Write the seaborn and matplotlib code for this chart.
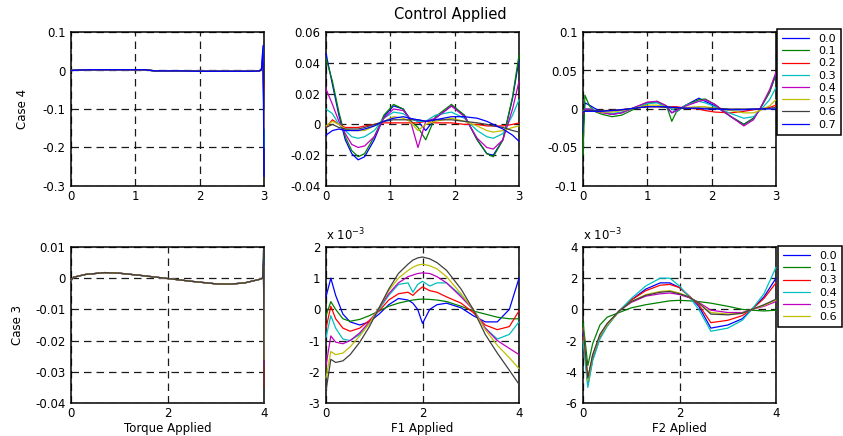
#!/usr/bin/env python3
"""Control applied per case: torque / F1 / F2 responses for several gains."""

import matplotlib
matplotlib.use("Agg")
import matplotlib.pyplot as plt
import seaborn as sns
from matplotlib.ticker import FuncFormatter

# ---- colours (MATLAB default order) ----
COLORS = ["#0000FF", "#008000", "#FF0000", "#00BFBF", "#BF00BF", "#BFBF00", "#404040", "#0000FF"]

TOP_LABELS = ["0.0", "0.1", "0.2", "0.3", "0.4", "0.5", "0.6", "0.7"]
BOTTOM_LABELS = ["0.0", "0.1", "0.3", "0.4", "0.5", "0.6"]

# ---- Case 4, torque (shared shape + per-curve end spike) ----
X1 = [0, 0.1, 0.3, 0.6, 1.0, 1.15, 1.3, 1.7, 2.0, 2.4, 2.8, 2.93, 2.96, 2.985, 3.0]
TORQUE4_BASE = [0.000, 0.001, 0.002, 0.002, 0.002, 0.002, -0.001, -0.001,
                -0.002, -0.002, -0.002, -0.001, 0.003]
TORQUE4_TIP = [0.020, 0.030, 0.000, 0.055, 0.040, 0.030, 0.020, 0.065]
TORQUE4_END = [-0.10, -0.15, -0.05, -0.20, -0.15, -0.15, -0.10, -0.275]

# ---- Case 4, F1 ----
X2 = [0, 0.1, 0.2, 0.3, 0.4, 0.5, 0.6, 0.75, 0.9, 1.05, 1.2, 1.3, 1.43, 1.55,
      1.7, 1.95, 2.15, 2.35, 2.5, 2.6, 2.75, 2.9, 3.0]
F1_CASE4 = [
    [0.046, 0.026, 0.006, -0.010, -0.019, -0.023, -0.021, -0.010, 0.005, 0.012, 0.010, 0.004,
     0.002, -0.004, 0.004, 0.012, 0.006, -0.010, -0.019, -0.020, -0.010, 0.017, 0.042],
    [0.043, 0.028, 0.008, -0.008, -0.017, -0.021, -0.019, -0.008, 0.006, 0.013, 0.010, 0.003,
     -0.002, -0.010, 0.005, 0.013, 0.006, -0.010, -0.019, -0.021, -0.010, 0.018, 0.045],
    [-0.002, 0.003, 0.000, -0.002, -0.002, -0.002, -0.001, 0.000, 0.001, 0.001, 0.001, 0.001,
     0.001, 0.002, 0.001, 0.001, 0.000, 0.000, -0.001, -0.001, -0.001, 0.000, 0.001],
    [0.010, 0.007, 0.000, -0.004, -0.008, -0.009, -0.008, -0.004, 0.004, 0.008, 0.007, 0.004,
     0.002, 0.002, 0.006, 0.008, 0.004, -0.004, -0.008, -0.009, -0.006, 0.006, 0.016],
    [0.023, 0.013, 0.002, -0.006, -0.013, -0.015, -0.014, -0.008, 0.004, 0.010, 0.009, 0.004,
     -0.015, 0.002, 0.004, 0.012, 0.005, -0.009, -0.015, -0.016, -0.010, 0.010, 0.028],
    [-0.001, 0.002, 0.000, -0.003, -0.004, -0.004, -0.004, -0.001, 0.002, 0.005, 0.004, 0.002,
     -0.004, 0.000, 0.002, 0.004, 0.002, -0.001, -0.004, -0.005, -0.004, -0.002, -0.001],
    [-0.002, 0.000, -0.002, -0.003, -0.003, -0.003, -0.002, 0.000, 0.002, 0.003, 0.003, 0.003,
     0.003, 0.002, 0.003, 0.003, 0.002, 0.001, 0.000, -0.001, -0.002, -0.004, -0.005],
    [-0.007, -0.004, -0.003, -0.004, -0.004, -0.004, -0.003, -0.001, 0.002, 0.004, 0.005, 0.004,
     0.003, 0.002, 0.003, 0.005, 0.005, 0.004, 0.002, 0.000, -0.003, -0.007, -0.011],
]

# ---- Case 4, F2 ----
X3 = [0, 0.03, 0.1, 0.2, 0.3, 0.45, 0.6, 0.8, 1.0, 1.15, 1.3, 1.38, 1.45, 1.6, 1.8,
      1.9, 2.05, 2.3, 2.5, 2.65, 2.75, 2.9, 3.0]
F2_CASE4 = [
    [-0.030, 0.008, 0.005, 0.000, -0.004, -0.007, -0.005, 0.002, 0.008, 0.009, 0.002, -0.005,
     -0.002, 0.005, 0.014, 0.010, 0.004, -0.010, -0.020, -0.012, 0.000, 0.022, 0.045],
    [-0.060, 0.018, 0.004, -0.004, -0.007, -0.010, -0.008, 0.000, 0.007, 0.010, 0.004, -0.016,
     -0.004, 0.005, 0.012, 0.013, 0.006, -0.010, -0.020, -0.012, 0.000, 0.022, 0.046],
    [-0.005, -0.003, -0.002, -0.002, -0.002, -0.002, -0.001, 0.001, 0.003, 0.003, 0.003, 0.003,
     0.003, 0.001, 0.000, -0.002, -0.004, -0.005, -0.003, -0.001, 0.000, 0.002, 0.005],
    [-0.003, 0.000, 0.000, -0.002, -0.004, -0.006, -0.004, 0.002, 0.007, 0.008, 0.003, 0.000,
     -0.003, 0.005, 0.010, 0.008, 0.003, -0.006, -0.012, -0.010, -0.002, 0.012, 0.028],
    [-0.005, 0.000, 0.000, -0.003, -0.005, -0.007, -0.005, 0.002, 0.009, 0.010, 0.004, -0.005,
     -0.002, 0.004, 0.010, 0.012, 0.006, -0.010, -0.022, -0.014, 0.000, 0.025, 0.048],
    [-0.003, -0.002, -0.002, -0.003, -0.004, -0.004, -0.002, 0.001, 0.005, 0.005, 0.003, 0.002,
     0.001, 0.002, 0.003, 0.003, 0.001, -0.002, -0.005, -0.005, -0.002, 0.004, 0.012],
    [-0.003, -0.002, -0.002, -0.002, -0.002, -0.002, -0.001, 0.001, 0.003, 0.003, 0.002, 0.002,
     0.001, 0.001, 0.001, 0.001, 0.001, 0.000, 0.000, 0.000, 0.000, 0.001, 0.002],
    [-0.004, -0.003, -0.003, -0.003, -0.003, -0.002, -0.001, 0.001, 0.003, 0.003, 0.003, 0.002,
     0.002, 0.001, 0.001, 0.000, 0.000, -0.001, -0.001, 0.000, 0.000, 0.000, 0.000],
]

# ---- Case 3, torque (shared shape + per-curve end spike) ----
X4 = [0, 0.05, 0.3, 0.7, 1.0, 1.5, 2.0, 2.5, 3.0, 3.3, 3.6, 3.9, 3.97, 3.99, 4.0]
TORQUE3_BASE = [-0.0008, 0.0003, 0.0012, 0.0018, 0.0016, 0.0008, -0.0001, -0.0010,
                -0.0018, -0.0019, -0.0015, -0.0004, 0.0000]
TORQUE3_TIP = [0.002, 0.004, 0.003, 0.006, 0.005, 0.004, 0.009]
TORQUE3_END = [-0.024, -0.030, -0.035, -0.020, -0.028, -0.026, -0.040]

# ---- Case 3, F1 (x 1e-3) ----
X5 = [0, 0.1, 0.2, 0.35, 0.5, 0.7, 0.9, 1.1, 1.3, 1.5, 1.7, 1.8, 1.9, 2.0, 2.15, 2.3,
      2.5, 2.8, 3.05, 3.3, 3.55, 3.8, 4.0]
F1_CASE3 = [
    [0.4, 1.0, 0.45, -0.15, -0.4, -0.5, -0.4, -0.15, 0.15, 0.35, 0.3, 0.2, 0.0, -0.45, 0.0,
     0.15, 0.2, 0.05, -0.2, -0.4, -0.4, 0.0, 1.0],
    [-0.2, 0.25, 0.0, -0.3, -0.38, -0.32, -0.2, -0.05, 0.1, 0.2, 0.27, 0.3, 0.32, 0.33, 0.32,
     0.3, 0.25, 0.1, -0.05, -0.15, -0.25, -0.3, -0.3],
    [-0.6, 0.1, -0.3, -0.6, -0.7, -0.6, -0.35, -0.05, 0.3, 0.5, 0.55, 0.45, 0.6, 0.72, 0.6,
     0.55, 0.4, 0.2, -0.1, -0.5, -0.65, -0.55, -0.05],
    [-0.9, -0.2, -0.6, -0.95, -1.0, -0.8, -0.45, 0.0, 0.45, 0.8, 0.85, 0.55, 0.8, 0.9, 0.75,
     0.85, 0.85, 0.45, 0.0, -0.6, -0.95, -0.8, -0.4],
    [-1.8, -0.85, -1.05, -1.1, -1.0, -0.75, -0.4, 0.05, 0.5, 0.85, 1.05, 1.1, 1.15, 1.17, 1.15,
     1.05, 0.85, 0.4, 0.0, -0.6, -1.0, -1.25, -1.45],
    [-2.2, -1.35, -1.45, -1.4, -1.2, -0.85, -0.45, 0.05, 0.6, 1.0, 1.25, 1.35, 1.42, 1.45, 1.4,
     1.3, 1.05, 0.5, 0.0, -0.65, -1.15, -1.55, -1.9],
    [-2.6, -1.6, -1.7, -1.65, -1.45, -1.05, -0.55, 0.05, 0.65, 1.15, 1.45, 1.58, 1.65, 1.68,
     1.62, 1.5, 1.25, 0.65, 0.0, -0.8, -1.4, -1.95, -2.4],
]

# ---- Case 3, F2 (x 1e-3) ----
X6 = [0, 0.1, 0.2, 0.35, 0.5, 0.75, 1.0, 1.3, 1.6, 1.8, 2.0, 2.2, 2.4, 2.65, 3.0, 3.3,
      3.5, 3.75, 4.0]
F2_CASE3 = [
    [-1.5, -4.8, -3.2, -1.8, -1.0, -0.1, 0.6, 1.3, 1.7, 1.7, 1.4, 0.85, 0.2, -1.2, -1.0,
     -0.6, 0.0, 0.8, 2.0],
    [-0.8, -3.6, -2.2, -1.0, -0.5, -0.2, 0.1, 0.3, 0.45, 0.55, 0.58, 0.55, 0.5, 0.4, 0.2,
     0.0, -0.05, -0.1, -0.05],
    [-1.8, -4.6, -3.0, -1.7, -1.0, -0.1, 0.6, 1.2, 1.55, 1.6, 1.4, 0.85, 0.3, -0.85, -0.7,
     -0.4, 0.0, 0.7, 1.7],
    [-2.0, -5.0, -3.3, -1.9, -1.1, -0.1, 0.7, 1.5, 2.0, 2.0, 1.5, 0.8, 0.0, -1.4, -1.2,
     -0.7, 0.0, 1.0, 2.7],
    [-1.3, -4.5, -3.0, -1.7, -1.0, -0.1, 0.45, 0.85, 1.0, 1.05, 0.95, 0.75, 0.45, -0.05,
     -0.2, -0.2, 0.0, 0.2, 0.5],
    [-1.2, -4.6, -3.0, -1.7, -1.0, -0.1, 0.5, 0.95, 1.15, 1.2, 1.05, 0.8, 0.4, -0.2, -0.3,
     -0.25, 0.0, 0.25, 0.6],
    [-1.2, -4.4, -2.9, -1.6, -0.9, -0.1, 0.5, 0.9, 1.1, 1.15, 1.0, 0.8, 0.4, -0.3, -0.35,
     -0.25, 0.0, 0.3, 0.65],
]

FIG_W, FIG_H = 843, 436


def px_axes(fig, left, top, right, bottom):
    return fig.add_axes([left / FIG_W, 1 - bottom / FIG_H,
                         (right - left) / FIG_W, (bottom - top) / FIG_H])


def draw(ax, x, curves, xlim, xticks, ylim, yticks):
    for i, y in enumerate(curves):
        sns.lineplot(x=x, y=y, ax=ax, color=COLORS[i], lw=0.9, legend=False,
                     estimator=None, zorder=3, clip_on=False)
    ax.set_xlim(*xlim)
    ax.set_ylim(*ylim)
    ax.set_xticks(xticks)
    ax.set_yticks(yticks)
    fmt = FuncFormatter(lambda v, _: f"{v:g}")
    ax.xaxis.set_major_formatter(fmt)
    ax.yaxis.set_major_formatter(fmt)
    ax.grid(True, color="#1a1a1a", lw=0.9, linestyle=(0, (6, 4)))
    ax.tick_params(direction="in", length=3, width=0.8, labelsize=8.5,
                   colors="black", pad=4)
    ax.tick_params(axis="x", pad=3)
    for s in ax.spines.values():
        s.set_visible(True)
        s.set_color("black")
        s.set_linewidth(1.1)
        s.set_zorder(2)
    ax.set_xlabel("")
    ax.set_ylabel("")


def main():
    sns.set_theme(style="white")
    plt.rcParams["font.family"] = ["DejaVu Sans"]
    plt.rcParams["axes.unicode_minus"] = False
    plt.rcParams["text.color"] = "black"
    plt.rcParams["axes.labelcolor"] = "black"

    fig = plt.figure(figsize=(FIG_W / 100, FIG_H / 100), dpi=100)

    cols = [(71, 264), (326, 519), (583, 776)]
    top_row = (32, 186)
    bot_row = (247, 403)

    ax1 = px_axes(fig, cols[0][0], top_row[0], cols[0][1], top_row[1])
    ax2 = px_axes(fig, cols[1][0], top_row[0], cols[1][1], top_row[1])
    ax3 = px_axes(fig, cols[2][0], top_row[0], cols[2][1], top_row[1])
    ax4 = px_axes(fig, cols[0][0], bot_row[0], cols[0][1], bot_row[1])
    ax5 = px_axes(fig, cols[1][0], bot_row[0], cols[1][1], bot_row[1])
    ax6 = px_axes(fig, cols[2][0], bot_row[0], cols[2][1], bot_row[1])

    torque4 = [TORQUE4_BASE + [t, e] for t, e in zip(TORQUE4_TIP, TORQUE4_END)]
    torque3 = [TORQUE3_BASE + [t, e] for t, e in zip(TORQUE3_TIP, TORQUE3_END)]

    draw(ax1, X1, torque4, (0, 3), [0, 1, 2, 3], (-0.3, 0.1), [-0.3, -0.2, -0.1, 0, 0.1])
    draw(ax2, X2, F1_CASE4, (0, 3), [0, 1, 2, 3], (-0.04, 0.06),
         [-0.04, -0.02, 0, 0.02, 0.04, 0.06])
    draw(ax3, X3, F2_CASE4, (0, 3), [0, 1, 2, 3], (-0.1, 0.1), [-0.1, -0.05, 0, 0.05, 0.1])
    draw(ax4, X4, torque3, (0, 4), [0, 2, 4], (-0.04, 0.01),
         [-0.04, -0.03, -0.02, -0.01, 0, 0.01])
    draw(ax5, X5, F1_CASE3, (0, 4), [0, 2, 4], (-3, 2), [-3, -2, -1, 0, 1, 2])
    draw(ax6, X6, F2_CASE3, (0, 4), [0, 2, 4], (-6, 4), [-6, -4, -2, 0, 2, 4])

    for ax in (ax5, ax6):
        ax.text(0.0, 1.025, r"x 10$^{-3}$", transform=ax.transAxes, fontsize=8.5,
                ha="left", va="bottom")

    ax1.set_ylabel("Case 4", fontsize=8.5, labelpad=10)
    ax4.set_ylabel("Case 3", fontsize=8.5, labelpad=8)
    ax4.set_xlabel("Torque Applied", fontsize=8.5, labelpad=1)
    ax5.set_xlabel("F1 Applied", fontsize=8.5, labelpad=1)
    ax6.set_xlabel("F2 Aplied", fontsize=8.5, labelpad=1)
    fig.text(450 / FIG_W, 1 - 14 / FIG_H, "Control Applied", fontsize=10.5,
             ha="center", va="center")

    leg_kw = dict(loc="upper left", fontsize=8, frameon=True, fancybox=False,
                  edgecolor="black", framealpha=1, handlelength=2.4,
                  handletextpad=0.9, labelspacing=0.2, borderpad=0.45,
                  borderaxespad=0)
    leg1 = fig.legend(ax3.lines[:8], TOP_LABELS,
                      bbox_to_anchor=(777 / FIG_W, 1 - 29 / FIG_H), **leg_kw)
    leg1.get_frame().set_linewidth(1.1)
    leg2 = fig.legend(ax6.lines[:6], BOTTOM_LABELS,
                      bbox_to_anchor=(778 / FIG_W, 1 - 246 / FIG_H), **leg_kw)
    leg2.get_frame().set_linewidth(1.1)

    fig.savefig("out.png", dpi=100)
    plt.close(fig)


if __name__ == "__main__":
    main()
